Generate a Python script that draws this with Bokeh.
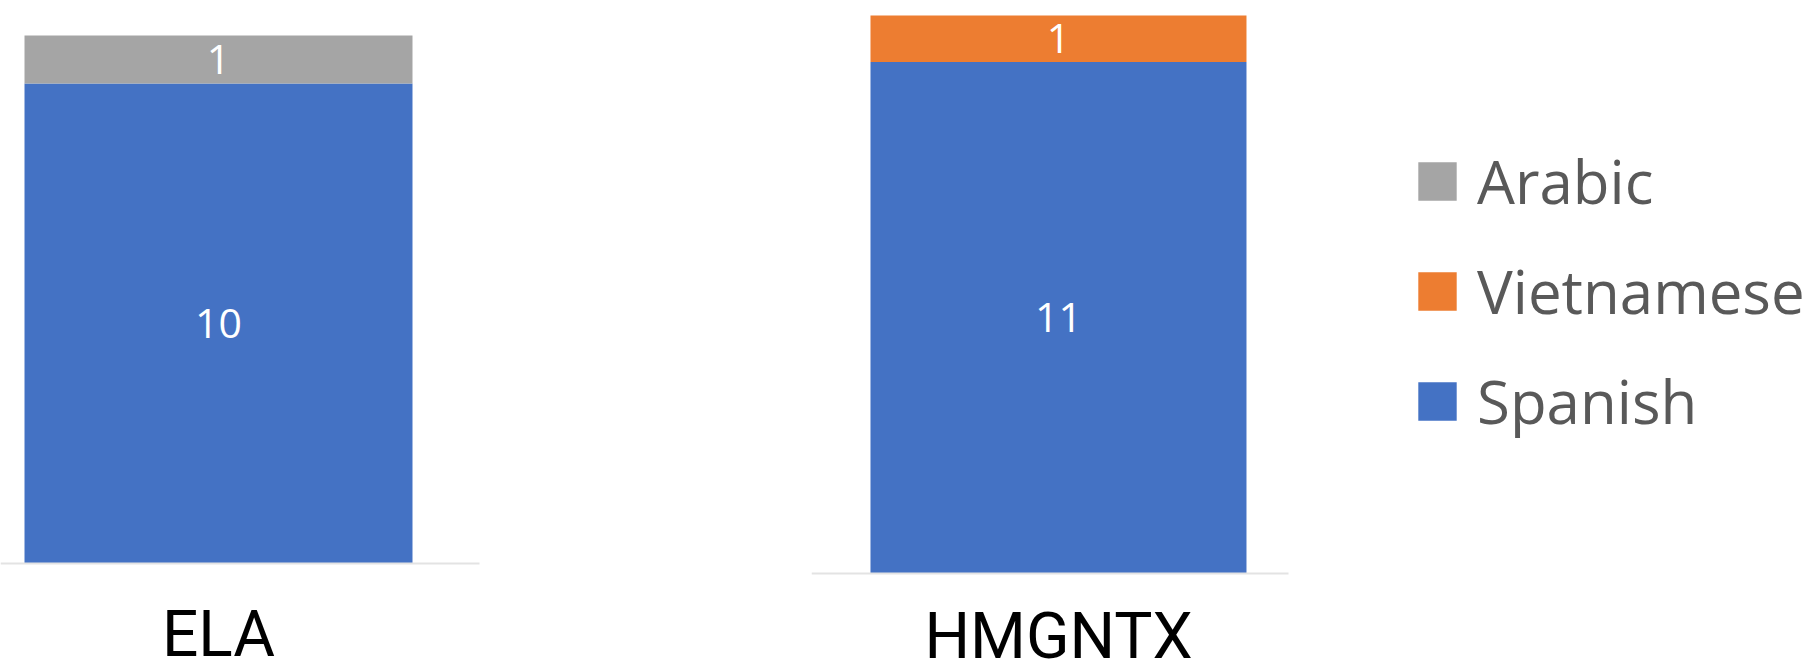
from bokeh.plotting import figure
from bokeh.models import Range1d, ColumnDataSource, Legend, LegendItem, FixedTicker, LinearAxis
from bokeh.layouts import row
from bokeh.embed import file_html
from bokeh.resources import INLINE
from bokeh.core.properties import value

# ---- data ----
categories = ["ELA", "HMGNTX"]
spanish = [10, 11]
vietnamese = [0, 1]
arabic = [1, 0]

series_names = ["Spanish", "Vietnamese", "Arabic"]
series_colors = ["#4472C4", "#ED7D31", "#A5A5A5"]
series_values = [spanish, vietnamese, arabic]

BAR_WIDTH = 0.8
HEIGHT = 662


def make_chart(i, width, x_range, y_range, axis_bounds, standoff):
    p = figure(width=width, height=HEIGHT, x_range=x_range, y_range=y_range,
               output_backend="svg", toolbar_location=None,
               x_axis_type=None, y_axis_type=None,
               min_border_left=0, min_border_right=0,
               min_border_top=0, min_border_bottom=0)
    p.outline_line_color = None
    p.xgrid.visible = False
    p.ygrid.visible = False

    bottom = 0
    renderers = {}
    lx, ly, lt = [], [], []
    for name, color, vals in zip(series_names, series_colors, series_values):
        v = vals[i]
        src = ColumnDataSource(dict(x=[i], top=[bottom + v], bottom=[bottom]))
        r = p.vbar(x="x", top="top", bottom="bottom", width=BAR_WIDTH, source=src,
                   fill_color=color, line_color=None)
        renderers[name] = r
        if v:
            lx.append(i)
            ly.append(bottom + v / 2)
            lt.append(str(v))
        bottom += v

    p.text(x=lx, y=ly, text=lt, text_font=value("Open Sans"), text_font_size="41px",
           text_color="white", text_align="center", text_baseline="middle")

    axis = LinearAxis(fixed_location=0, bounds=axis_bounds, ticker=FixedTicker(ticks=[i]),
                      major_label_overrides={i: categories[i]})
    axis.axis_line_color = "#e3e3e3"
    axis.axis_line_width = 2
    axis.major_tick_line_color = None
    axis.minor_tick_line_color = None
    axis.major_tick_out = 0
    axis.major_tick_in = 0
    axis.major_label_standoff = standoff
    axis.major_label_text_font = "Roboto"
    axis.major_label_text_font_size = "64px"
    axis.major_label_text_color = "#000000"
    p.add_layout(axis, "below")
    return p, renderers


p1, _ = make_chart(0, 811, Range1d(-0.4495, 1.2227), Range1d(-2.0625, 11.729),
                   (-0.4495, 0.538), 34)
p2, r2 = make_chart(1, 1005, Range1d(0.4745, 2.6128), Range1d(-1.914, 12.323),
                    (0.4745, 1.4894), 25)

legend = Legend(items=[LegendItem(label=n, renderers=[r2[n]]) for n in ["Arabic", "Vietnamese", "Spanish"]],
                location=(602, 220))
legend.glyph_width = 48
legend.glyph_height = 48
legend.label_standoff = 16
legend.label_text_font = "Open Sans"
legend.label_text_font_size = "60px"
legend.label_text_color = "#595959"
legend.spacing = 28
legend.padding = 0
legend.margin = 0
legend.border_line_color = None
legend.background_fill_alpha = 0
p2.add_layout(legend, "center")

layout = row(p1, p2)
open("out.html", "w").write(file_html(layout, INLINE))
